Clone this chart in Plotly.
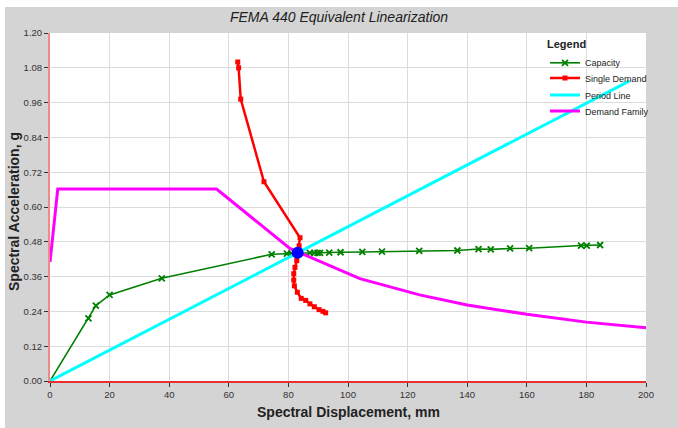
import plotly.graph_objects as go

# Capacity curve (spectral displacement mm, spectral acceleration g)
cap_sd = [0.0, 12.9, 15.4, 20.0, 37.5, 74.4, 79.5, 81.0, 83.1, 87.2, 88.7, 89.8, 90.6,
          93.7, 97.5, 104.8, 111.4, 123.9, 136.7, 143.8, 147.9, 154.4, 160.8, 178.2,
          180.1, 184.6]
cap_sa = [0.000, 0.216, 0.260, 0.297, 0.354, 0.437, 0.439, 0.440, 0.442, 0.442, 0.442,
          0.442, 0.442, 0.443, 0.444, 0.445, 0.446, 0.449, 0.450, 0.455, 0.454, 0.457,
          0.458, 0.467, 0.467, 0.469]

# Single demand curve
dem_sd = [63.0, 63.3, 64.0, 71.8, 83.9, 83.6, 83.1, 82.8, 82.2, 81.8, 81.8, 82.0, 83.0,
          84.3, 85.8, 87.2, 88.7, 90.3, 91.6, 92.5]
dem_sa = [1.100, 1.080, 0.972, 0.687, 0.494, 0.466, 0.442, 0.415, 0.392, 0.370, 0.348,
          0.328, 0.306, 0.285, 0.278, 0.266, 0.256, 0.246, 0.240, 0.235]

# Period line through the performance point
per_sd = [0.0, 194.5]
per_sa = [0.0, 1.035]

# Demand family (reduced spectrum)
fam_sd = [0.0, 2.6, 55.9, 80.5, 104.0, 124.0, 140.0, 160.0, 180.0, 200.0]
fam_sa = [0.410, 0.662, 0.662, 0.457, 0.353, 0.297, 0.262, 0.230, 0.203, 0.184]

# Performance point
pp_sd = [83.1]
pp_sa = [0.442]

x_ticks = [0, 20, 40, 60, 80, 100, 120, 140, 160, 180, 200]
y_ticks = [0.00, 0.12, 0.24, 0.36, 0.48, 0.60, 0.72, 0.84, 0.96, 1.08, 1.20]

L, R, T, B = 50, 32, 33, 47
W, H = 678, 428
pw, ph = W - L - R, H - T - B


def px_x(p):
    return (p - L) / pw


def px_y(p):
    return (H - B - p) / ph


fig = go.Figure()
fig.add_trace(go.Scatter(x=cap_sd, y=cap_sa, name="Capacity", mode="lines+markers",
                         legend="legend",
                         line=dict(color="#008000", width=1.6),
                         marker=dict(symbol="x-thin", size=6,
                                     line=dict(color="#008000", width=1.8))))
fig.add_trace(go.Scatter(x=dem_sd, y=dem_sa, name="Single Demand", mode="lines+markers",
                         legend="legend2",
                         line=dict(color="#ff0000", width=2.5),
                         marker=dict(symbol="square", size=5, color="#ff0000")))
fig.add_trace(go.Scatter(x=per_sd, y=per_sa, name="Period Line", mode="lines",
                         legend="legend3",
                         line=dict(color="#00ffff", width=3)))
fig.add_trace(go.Scatter(x=fam_sd, y=fam_sa, name="Demand Family", mode="lines",
                         legend="legend4",
                         line=dict(color="#ff00ff", width=3)))
fig.add_trace(go.Scatter(x=pp_sd, y=pp_sa, mode="markers", showlegend=False,
                         marker=dict(color="#0000ff", size=12)))

tick_font = dict(family="Liberation Sans Narrow, Liberation Sans, Arial", size=9.5,
                 color="#333333")
legend_font = dict(family="Liberation Sans, Arial", size=9, color="#222222")


def legend_box(row_y, title=None):
    box = dict(x=px_x(545), y=px_y(row_y), xanchor="left", yanchor="middle",
               bgcolor="rgba(0,0,0,0)", borderwidth=0, itemwidth=30,
               font=legend_font)
    if title:
        box["yanchor"] = "top"
        box["title"] = dict(text=title, side="top",
                            font=dict(family="Liberation Sans, Arial", size=11,
                                      color="#222222"))
    return box


fig.update_layout(
    width=W, height=H,
    margin=dict(l=L, r=R, t=T, b=B, autoexpand=False),
    paper_bgcolor="#d4d4d4",
    plot_bgcolor="#ffffff",
    title=dict(text="FEMA 440 Equivalent Linearization", x=0.5, xanchor="center",
               y=1 - 17 / H, yanchor="middle",
               font=dict(family="Liberation Sans, Arial", size=14, color="#222222",
                         style="italic")),
    xaxis=dict(range=[0, 200], tickvals=x_ticks, showgrid=True, gridcolor="#dcdcdc",
               gridwidth=1, zeroline=False, showline=True, linecolor="#e83030",
               linewidth=1.5, ticks="outside", ticklen=4, tickcolor="#333333",
               tickfont=tick_font, automargin=False),
    yaxis=dict(range=[0, 1.2], tickvals=y_ticks, tickformat=".2f", showgrid=True,
               gridcolor="#dcdcdc", gridwidth=1, zeroline=False, showline=True,
               linecolor="#f08a8a", linewidth=2, ticks="outside", ticklen=4,
               tickcolor="#333333", tickfont=tick_font, automargin=False),
    legend=legend_box(34, "<b>Legend</b>"),
    legend2=legend_box(78),
    legend3=legend_box(95),
    legend4=legend_box(111),
    annotations=[
        dict(text="<b>Spectral Displacement, mm</b>", xref="paper", yref="paper",
             x=px_x(348), y=px_y(412), xanchor="center", yanchor="middle",
             showarrow=False,
             font=dict(family="Liberation Sans, Arial", size=14, color="#222222")),
        dict(text="<b>Spectral Acceleration, g</b>", xref="paper", yref="paper",
             x=px_x(14), y=px_y(212), xanchor="center", yanchor="middle",
             textangle=-90, showarrow=False,
             font=dict(family="Liberation Sans, Arial", size=14, color="#222222")),
    ],
    shapes=[
        dict(type="rect", xref="paper", yref="paper", x0=px_x(0), x1=px_x(5),
             y0=px_y(H), y1=px_y(0), fillcolor="#ffffff", line=dict(width=0)),
        dict(type="rect", xref="paper", yref="paper", x0=px_x(0), x1=px_x(W),
             y0=px_y(7), y1=px_y(0), fillcolor="#ffffff", line=dict(width=0)),
    ],
)

fig.write_html("out.html")
